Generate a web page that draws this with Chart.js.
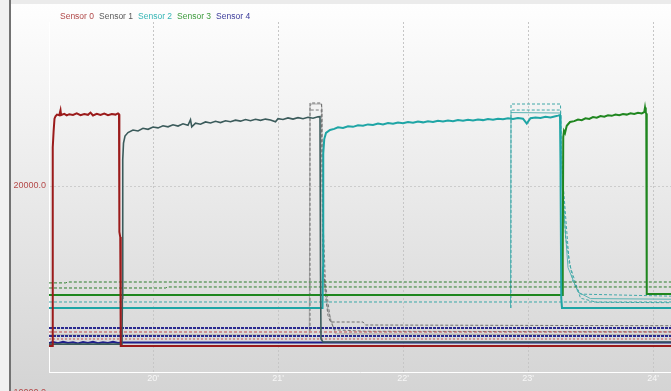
<!DOCTYPE html>
<html lang="en">
<head>
<meta charset="UTF-8">
<title>Sensor readings</title>
<script src="https://cdn.jsdelivr.net/npm/chart.js"></script>
<style>
  body { margin: 0; background: #f0f0f0; }
  #wrap { width: 671px; height: 391px; }
</style>
</head>
<body>
<div id="wrap"><canvas id="sensorChart" width="671" height="391"></canvas></div>
<script>
// axis ticks (minutes on x)
const xTicks = [20, 21, 22, 23, 24];
const yTicks = [10000, 20000];
const sensorNames = ['Sensor 0', 'Sensor 1', 'Sensor 2', 'Sensor 3', 'Sensor 4'];

// main traces, [minute, value]
const sensor0 = [[19.168,12157],[19.194,12157],[19.197,15000],[19.199,21900],[19.205,22700],[19.212,23300],[19.22,23420],[19.232,23500],[19.25,23470],[19.26,23720],[19.265,23480],[19.29,23540],[19.31,23460],[19.33,23520],[19.36,23480],[19.39,23560],[19.42,23470],[19.45,23530],[19.48,23490],[19.50,23600],[19.52,23460],[19.55,23540],[19.58,23480],[19.61,23550],[19.64,23470],[19.67,23530],[19.70,23500],[19.72,23560],[19.728,23520],[19.731,17745],[19.738,17500],[19.742,12157],[24.144,12157]];
const sensor1 = [[19.168,12250],[19.752,12250],[19.755,14500],[19.758,21300],[19.764,22100],[19.776,22450],[19.80,22620],[19.84,22745],[19.88,22700],[19.92,22830],[19.96,22780],[20.0,22890],[20.04,22850],[20.08,22950],[20.12,22900],[20.16,23000],[20.20,22940],[20.24,23050],[20.28,22980],[20.30,23250],[20.31,22900],[20.34,23080],[20.38,23030],[20.42,23140],[20.46,23090],[20.50,23170],[20.54,23110],[20.58,23200],[20.62,23150],[20.66,23230],[20.70,23180],[20.74,23260],[20.78,23200],[20.82,23270],[20.86,23220],[20.90,23280],[20.94,23240],[20.98,23150],[21.0,23300],[21.04,23260],[21.08,23340],[21.12,23280],[21.16,23350],[21.20,23300],[21.24,23370],[21.28,23320],[21.32,23390],[21.336,23400],[21.34,16000],[21.344,12500],[21.36,12350],[24.144,12350]];
const sensor2 = [[19.168,14020],[21.356,14020],[21.36,16000],[21.362,21600],[21.37,22300],[21.384,22600],[21.416,22745],[21.45,22800],[21.48,22880],[21.52,22850],[21.56,22930],[21.60,22900],[21.64,22980],[21.68,22950],[21.72,23020],[21.76,22990],[21.80,23060],[21.84,23020],[21.88,23090],[21.92,23050],[21.96,23110],[22.0,23080],[22.04,23140],[22.08,23100],[22.12,23160],[22.16,23120],[22.20,23170],[22.24,23140],[22.28,23200],[22.32,23160],[22.36,23210],[22.40,23180],[22.44,23230],[22.48,23200],[22.52,23250],[22.56,23210],[22.60,23260],[22.64,23230],[22.68,23280],[22.72,23250],[22.76,23300],[22.80,23270],[22.84,23320],[22.88,23290],[22.92,23330],[22.96,23300],[22.99,23060],[23.02,23320],[23.06,23360],[23.10,23330],[23.14,23390],[23.18,23360],[23.22,23420],[23.24,23450],[23.256,23480],[23.26,21000],[23.266,14500],[23.272,14020],[24.144,14020]];
const sensor3 = [[19.168,14657],[23.272,14657],[23.278,16500],[23.282,22400],[23.288,22700],[23.296,22600],[23.31,22950],[23.336,23137],[23.37,23180],[23.40,23260],[23.43,23230],[23.46,23320],[23.49,23290],[23.52,23380],[23.55,23350],[23.58,23430],[23.61,23400],[23.64,23470],[23.67,23440],[23.70,23500],[23.73,23470],[23.76,23530],[23.79,23500],[23.82,23560],[23.85,23530],[23.88,23590],[23.91,23560],[23.93,23620],[23.936,23850],[23.942,23600],[23.946,23550],[23.95,14700],[24.144,14700]];
const sensor4 = [[19.168,12300],[19.2,12350],[19.24,12290],[19.28,12360],[19.32,12300],[19.36,12340],[19.40,12280],[19.44,12350],[19.48,12300],[19.52,12360],[19.56,12290],[19.60,12340],[19.64,12310],[19.68,12360],[19.72,12300],[19.75,12328],[24.144,12328]];

// secondary channels (dashed limits and decays)
const greenHi = [[19.168,15250],[19.3,15250],[19.32,15294],[24.144,15294]];
const greenLo = [[19.168,15000],[20.1,15000],[20.12,15050],[24.144,15050]];
const tealMid = [[19.168,14314],[24.144,14314]];
const navyHi = [[19.168,13039],[24.144,13039]];
const redHi = [[19.168,12843],[24.144,12843]];
const navyLo = [[19.168,12647],[24.144,12647]];
const redLo = [[19.168,12500],[24.144,12500]];
const grayA = [[21.256,12900],[21.256,24069],[21.346,24069],[21.352,23700],[21.356,17000],[21.38,14600],[21.40,13650],[21.42,13333],[21.68,13333],[21.70,13186],[24.144,13150]];
const grayB = [[21.262,23725],[21.346,23725],[21.356,19000],[21.38,15200],[21.42,13400],[21.45,12950],[21.7,12880],[24.144,12850]];
const grayC = [[19.168,12700],[21.25,12700],[21.256,23950],[21.262,24020],[21.35,24020],[21.356,16000],[21.40,13900],[21.46,12750],[24.144,12700]];
const tealA = [[22.864,14020],[22.864,24020],[23.26,24020],[23.266,22000],[23.30,17500],[23.36,15300],[23.42,14700],[24.144,14600]];
const tealB = [[22.87,23725],[23.26,23725],[23.27,21000],[23.33,16200],[23.42,14500],[23.55,14300],[24.144,14280]];
const tealC = [[22.86,14020],[22.864,23600],[23.26,23578],[23.272,20000],[23.32,16000],[23.40,14800],[23.5,14480],[24.144,14450]];

const lineColors = ['#9b1b1b', '#3b5b5b', '#1ea5a5', '#1f861f', '#1f1f8a'];
const textColors = ['#b04848', '#5a5a5a', '#35b5b5', '#3c9a3c', '#3a3a9a'];
const FONT = '"Liberation Sans", Arial, sans-serif';

function aux(data, color, width, dash) {
    return { data: data, borderColor: color, borderWidth: width, borderDash: dash, pointRadius: 0, order: 2 };
}

const datasets = [sensor0, sensor1, sensor2, sensor3, sensor4].map((d, i) => ({
    label: sensorNames[i],
    data: d,
    borderColor: lineColors[i],
    borderWidth: i === 1 ? 1.6 : 2,
    pointRadius: 0,
    order: 1
}));
datasets.push(
    aux(greenHi, '#2b7d2b', 1, [3, 2]),
    aux(greenLo, '#2b7d2b', 1, [3, 2]),
    aux(tealMid, '#3aa8a8', 1, [3, 2]),
    aux(navyHi, '#2a2a90', 2, [3, 1]),
    aux(redHi, '#c04848', 1, [3, 2]),
    aux(navyLo, '#2a2a90', 2, [3, 1]),
    aux(redLo, '#c05050', 1, [2, 2]),
    aux(grayA, '#6e6e6e', 1, [3, 2]),
    aux(grayB, '#7a7a7a', 1, [3, 2]),
    aux(grayC, '#a8a8a8', 1, []),
    aux(tealA, '#40a8a8', 1, [3, 2]),
    aux(tealB, '#40a8a8', 1, [3, 2]),
    aux(tealC, '#5ab4b4', 1, [])
);

// background, frame, legend and the clipped y label
const framePlugin = {
    id: 'frame',
    beforeDraw(chart) {
        const c = chart.ctx, w = chart.width, h = chart.height;
        c.save();
        c.fillStyle = '#f0f0f0';
        c.fillRect(0, 0, w, h);
        const g = c.createLinearGradient(0, 4, 0, h);
        g.addColorStop(0, '#fefefe');
        g.addColorStop(1, '#d4d4d4');
        c.fillStyle = g;
        c.fillRect(11, 4, w - 11, h - 4);
        c.fillStyle = '#ebebeb';
        c.fillRect(11, 0, w - 11, 4);
        c.fillStyle = '#727272';
        c.fillRect(9, 0, 2, h);
        c.restore();
    },
    afterDraw(chart) {
        const c = chart.ctx;
        const yScale = chart.scales.y;
        c.save();
        c.font = '8.5px ' + FONT;
        c.textBaseline = 'middle';
        let x = 60;
        sensorNames.forEach((name, i) => {
            c.fillStyle = textColors[i];
            c.fillText(name, x, 17);
            x += c.measureText(name).width + 5;
        });
        // ticks that fall below the plot are still printed, clipped by the canvas
        c.font = '9px ' + FONT;
        c.textAlign = 'right';
        c.fillStyle = '#b54a4a';
        yTicks.filter(v => v < yScale.min).forEach(v => {
            c.fillText(v.toFixed(1), 46, yScale.getPixelForValue(v) + 3);
        });
        c.restore();
    }
};

const ctx = document.getElementById('sensorChart').getContext('2d');
new Chart(ctx, {
    type: 'line',
    data: { datasets: datasets },
    plugins: [framePlugin],
    options: {
        responsive: false,
        animation: false,
        layout: { padding: { top: 22, left: 0, right: 0, bottom: 0 } },
        plugins: { legend: { display: false }, tooltip: { enabled: false } },
        elements: { line: { tension: 0, borderJoinStyle: 'miter' } },
        scales: {
            x: {
                type: 'linear',
                min: 19.168,
                max: 24.144,
                afterBuildTicks: axis => { axis.ticks = xTicks.map(v => ({ value: v })); },
                afterFit: axis => { axis.height = 19; },
                ticks: {
                    callback: v => v + "'",
                    color: '#f7f7f7',
                    font: { family: FONT, size: 9 },
                    padding: 1,
                    maxRotation: 0
                },
                grid: { color: '#c6c6c6', drawTicks: false },
                border: { color: '#ffffff', width: 1, dash: [2, 2] }
            },
            y: {
                min: 10882,
                max: 28040,
                afterBuildTicks: axis => {
                    axis.ticks = yTicks.filter(v => v >= axis.min && v <= axis.max).map(v => ({ value: v }));
                },
                afterFit: axis => { axis.width = 49; },
                ticks: {
                    callback: v => v.toFixed(1),
                    color: '#b54a4a',
                    font: { family: FONT, size: 9 },
                    padding: 3
                },
                grid: { color: '#cccccc', drawTicks: false },
                border: { color: '#ffffff', width: 1, dash: [2, 2] }
            }
        }
    }
});
</script>
</body>
</html>
